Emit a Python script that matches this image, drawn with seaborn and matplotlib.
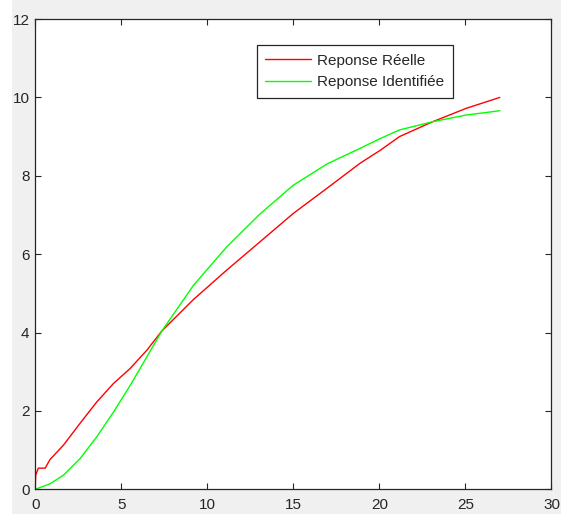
import pandas as pd
import numpy as np
import matplotlib
matplotlib.use("Agg")
import matplotlib.pyplot as plt
from matplotlib.patches import Rectangle
import seaborn as sns

# values
reelle_t = [0, 0.03, 0.18, 0.58, 0.86, 1.63, 2.6, 3.58, 4.55, 5.51, 6.49, 7.36,
            9.19, 11.12, 13.05, 15.0, 16.95, 18.88, 20.05, 21.17, 23.1, 25.04, 27.0]
reelle_y = [0, 0.36, 0.54, 0.54, 0.76, 1.12, 1.68, 2.23, 2.70, 3.08, 3.55, 4.04,
            4.84, 5.59, 6.31, 7.04, 7.68, 8.32, 8.65, 9.0, 9.38, 9.72, 10.0]

ident_t = [0, 0.86, 1.64, 2.6, 3.58, 4.55, 5.52, 6.49, 7.36, 9.19, 11.12, 13.05,
           15.0, 16.95, 18.88, 20.05, 21.17, 23.1, 25.04, 27.0]
ident_y = [0, 0.14, 0.36, 0.78, 1.34, 1.97, 2.65, 3.38, 4.04, 5.2, 6.18, 7.02,
           7.76, 8.3, 8.7, 8.95, 9.17, 9.38, 9.55, 9.66]

labels = ["Reponse Réelle", "Reponse Identifiée"]
xticks = [0, 5, 10, 15, 20, 25, 30]
yticks = [0, 2, 4, 6, 8, 10, 12]

sns.set_style("white")
plt.rcParams['font.family'] = ['Liberation Sans', 'DejaVu Sans']

df_r = pd.DataFrame({"t": reelle_t, "y": reelle_y})
df_i = pd.DataFrame({"t": ident_t, "y": ident_y})

fig = plt.figure(figsize=(5.61, 5.14), dpi=100, facecolor="#f0f0f0")
fig.patches.append(Rectangle((0, 0), 12 / 561, 1, transform=fig.transFigure,
                             facecolor="white", edgecolor="none", zorder=-1))
ax = fig.add_axes([0.0627, 0.048, 0.9203, 0.915])
ax.set_facecolor("white")

sns.lineplot(x="t", y="y", data=df_r, ax=ax, color="#ff0000", linewidth=1.0,
             estimator=None, sort=False, label=labels[0])
sns.lineplot(x="t", y="y", data=df_i, ax=ax, color="#00ff00", linewidth=1.0,
             estimator=None, sort=False, label=labels[1])

ax.set_xlim(0, 30)
ax.set_ylim(0, 12)
ax.set_xticks(xticks)
ax.set_yticks(yticks)
ax.set_xlabel("")
ax.set_ylabel("")
ax.tick_params(direction="in", length=4, width=0.8, color="#262626",
               labelsize=11, labelcolor="#262626",
               top=True, right=True, bottom=True, left=True)
ax.tick_params(axis="x", pad=6)
ax.tick_params(axis="y", pad=4)
for s in ax.spines.values():
    s.set_visible(True)
    s.set_color("#262626")
    s.set_linewidth(0.9)

leg = ax.legend(loc="upper right", bbox_to_anchor=(0.81, 0.945), fontsize=11,
                frameon=True, fancybox=False, shadow=False, framealpha=1,
                edgecolor="#262626", handlelength=3.0, handletextpad=0.4,
                labelspacing=0.5, borderpad=0.58, borderaxespad=0)
leg.get_frame().set_linewidth(0.9)

fig.savefig("out.png", dpi=100, facecolor=fig.get_facecolor())
